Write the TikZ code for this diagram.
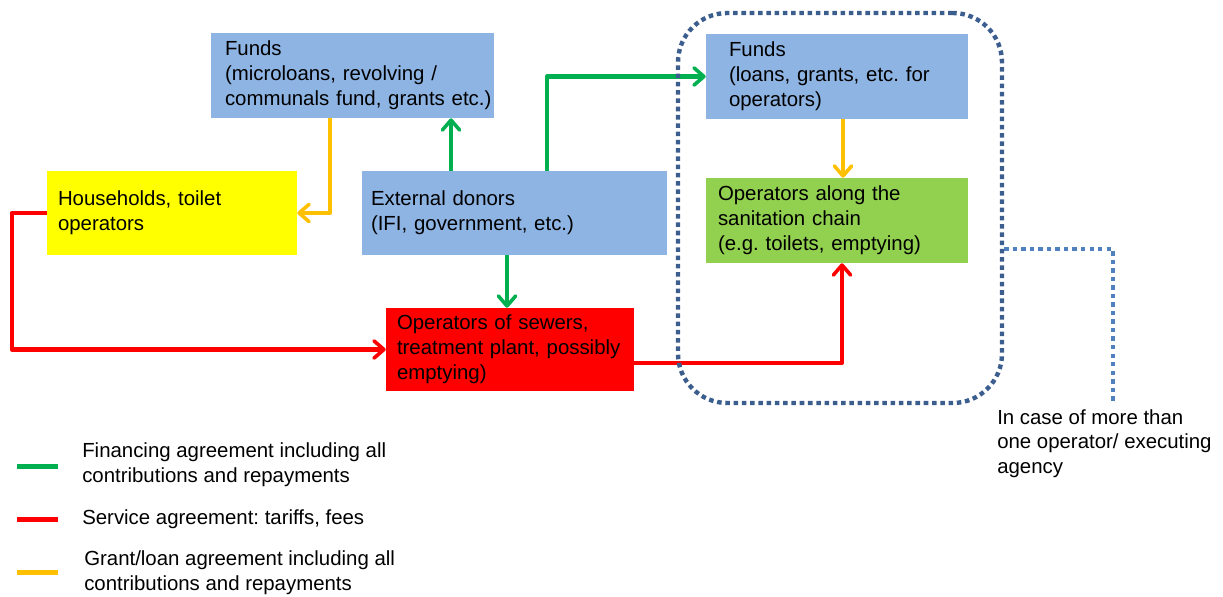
\documentclass[tikz,border=0pt]{standalone}
\usepackage{fontspec}
\setmainfont{Liberation Sans}
\usetikzlibrary{arrows.meta,calc}
\frenchspacing
\definecolor{boxblue}{HTML}{8EB4E3}
\definecolor{boxgreen}{HTML}{92D050}
\definecolor{boxyellow}{HTML}{FFFF00}
\definecolor{boxred}{HTML}{FF0000}
\definecolor{lgreen}{HTML}{00B050}
\definecolor{lorange}{HTML}{FFC000}
\definecolor{lred}{HTML}{FF0000}
\definecolor{framecol}{HTML}{3B5E8E}
\definecolor{linkcol}{HTML}{4F81BD}
\tikzset{
  blk/.style n args={3}{text width=#1*0.75pt, minimum height=#2*0.75pt,
    inner xsep=0pt, inner ysep=0pt, align=left, anchor=center,
    execute at begin node={\leftskip=\dimexpr #3pt*3/4\relax}},
  flow/.style={line width=3.1pt, line join=round,
    -{Straight Barb[length=7.5pt,width=13pt,line width=2.7pt,round]}},
  fin/.style={flow, draw=lgreen},
  srv/.style={flow, draw=lred},
  grt/.style={flow, draw=lorange},
  frame/.style={draw=framecol, line width=3.3pt, dash pattern=on 3.4pt off 2.8pt, rounded corners=37pt},
  link/.style={draw=linkcol, line width=2.9pt, dash pattern=on 3.3pt off 3.1pt},
  swatch/.style={line width=3.75pt},
  txt/.style={align=left, inner sep=0pt},
}
\begin{document}
\begin{tikzpicture}[x=0.75pt, y=-0.75pt, font=\fontsize{15.3}{18.6}\selectfont]
\useasboundingbox (0,0) rectangle (1223,596);
% boxes
\node[blk={283}{85}{14}, fill=boxblue] (fundsA) at (352.5,75.5) {Funds\\(microloans, revolving /\\communals fund, grants etc.)};
\node[blk={250}{84}{11}, fill=boxyellow] (house) at (172,213) {Households, toilet\\operators};
\node[blk={305}{84}{9}, fill=boxblue] (donors) at (514.5,213) {External donors\\(IFI, government, etc.)};
\node[blk={248}{83}{11}, fill=boxred] (sewers) at (510,349.5) {Operators of sewers,\\treatment plant, possibly\\emptying)};
\node[blk={262}{85}{23}, fill=boxblue] (fundsB) at (837,76.5) {Funds\\(loans, grants, etc. for\\operators)};
\node[blk={262}{85}{12}, fill=boxgreen] (opchain) at (837,220.5) {Operators along the\\sanitation chain\\(e.g. toilets, emptying)};
% connectors
\coordinate (o1) at ($(fundsA.south)+(-22.5,0)$);
\draw[grt] (o1) |- (house.east);
\coordinate (g1) at ($(donors.north)+(-63.5,0)$);
\draw[fin] (g1) -- (g1 |- fundsA.south);
\coordinate (g2) at ($(donors.north)+(32.5,0)$);
\draw[fin] (g2) |- (fundsB.west);
\coordinate (g3) at ($(donors.south)+(-7.5,0)$);
\draw[fin] (g3) -- (g3 |- sewers.north);
\draw[srv] (house.west) -- ++(-35,0) |- (sewers.west);
\coordinate (r2) at ($(sewers.east)+(0,13.5)$);
\draw[srv] (r2) -| ($(opchain.south)+(5,0)$);
\coordinate (o2) at ($(fundsB.south)+(6,0)$);
\draw[grt] (o2) -- (o2 |- opchain.north);
% group frame
\node[frame, minimum width=324*0.75pt, minimum height=390*0.75pt, inner sep=0pt] (grp) at (840,208) {};
\node[txt, anchor=north west] (note) at (997,409) {In case of more than\\one operator/ executing\\agency};
\coordinate (l1) at ($(grp.east)+(0,41)$);
\coordinate (lend) at ($(note.north west)+(116,-7)$);
\draw[link] (l1) -| (lend);
% legend
\node[txt, anchor=west] (legA) at (82,465) {Financing agreement including all\\contributions and repayments};
\node[txt, anchor=west] (legB) at (82,519) {Service agreement: tariffs, fees};
\node[txt, anchor=west] (legC) at (84,573) {Grant/loan agreement including all\\contributions and repayments};
\draw[swatch, lgreen] ($(legA.west)+(-65,1)$) -- ++(41,0);
\draw[swatch, lred] ($(legB.west)+(-65,0)$) -- ++(41,0);
\draw[swatch, lorange] ($(legC.west)+(-67,-1)$) -- ++(41,0);
\end{tikzpicture}
\end{document}
